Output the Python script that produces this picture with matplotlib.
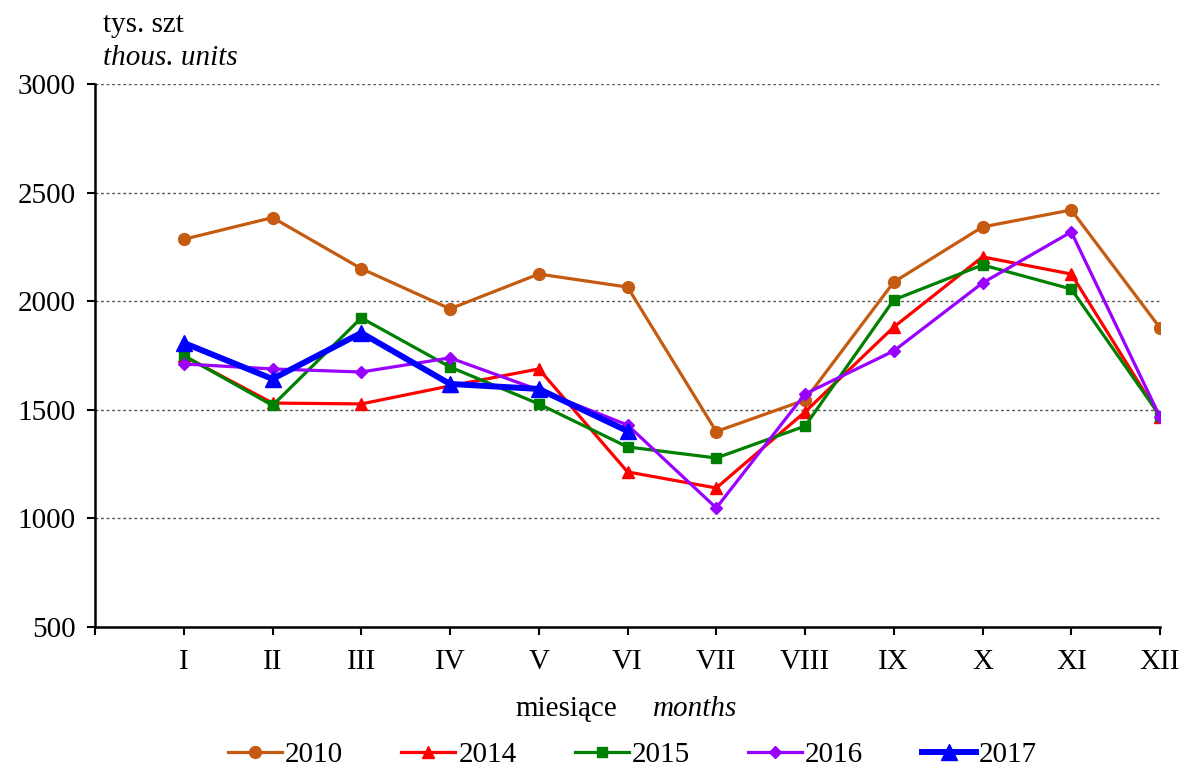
import matplotlib
matplotlib.use('Agg')
import matplotlib.pyplot as plt
import numpy as np

months = ['I', 'II', 'III', 'IV', 'V', 'VI', 'VII', 'VIII', 'IX', 'X', 'XI', 'XII']

v2010 = [2285, 2385, 2150, 1965, 2125, 2065, 1400, 1545, 2088, 2342, 2420, 1877]
v2014 = [1748, 1531, 1527, 1610, 1688, 1214, 1140, 1490, 1881, 2204, 2125, 1467]
v2015 = [1750, 1520, 1923, 1697, 1527, 1329, 1278, 1425, 2006, 2167, 2056, 1472]
v2016 = [1711, 1688, 1674, 1739, 1591, 1430, 1048, 1573, 1771, 2084, 2319, 1467]
v2017 = [1808, 1642, 1854, 1619, 1596, 1402]

plt.rcParams['font.family'] = ['Liberation Serif', 'DejaVu Serif']
FS = 21

fig = plt.figure(figsize=(11.82, 7.75), dpi=100)
ax = fig.add_axes([0.0804, 0.1910, 0.9010, 0.7006])

x = np.arange(1, 13)
ax.plot(x, v2010, color='#C55A11', lw=2.3, marker='o', ms=8.5, label='2010', zorder=3)
ax.plot(x, v2014, color='#FF0000', lw=2.3, marker='^', ms=8.5, label='2014', zorder=3)
ax.plot(x, v2015, color='#008000', lw=2.3, marker='s', ms=6.5, label='2015', zorder=3)
ax.plot(x, v2016, color='#9900FF', lw=2.3, marker='D', ms=6.5, label='2016', zorder=3)
ax.plot(x[:len(v2017)], v2017, color='#0000FF', lw=4.3, marker='^', ms=11, label='2017', zorder=4)

ax.set_xlim(0, 12)
ax.set_ylim(500, 3000)
ax.set_yticks(np.arange(500, 3001, 500))
ax.set_xticks(np.arange(0, 13))
ax.set_xticklabels([''] + months)
ax.tick_params(axis='both', labelsize=FS, direction='out', length=6, width=1.5, colors='black')
ax.tick_params(axis='x', pad=10)
ax.tick_params(axis='y', pad=8)

for s in ['top', 'right']:
    ax.spines[s].set_visible(False)
for s in ['left', 'bottom']:
    ax.spines[s].set_linewidth(1.8)

for yv in [1000, 1500, 2000, 2500, 3000]:
    ax.axhline(yv, color='#555555', lw=1, ls=(0, (2, 2)), zorder=1)

fig.text(0.087, 0.968, 'tys. szt', fontsize=FS, va='center', ha='left')
fig.text(0.087, 0.925, 'thous. units', fontsize=FS, style='italic', va='center', ha='left')

fig.text(0.479, 0.085, 'miesiące', fontsize=FS, va='center', ha='center')
fig.text(0.588, 0.085, 'months', fontsize=FS, style='italic', va='center', ha='center')

leg = fig.legend(loc='lower center', bbox_to_anchor=(0.535, -0.025), ncol=5, frameon=False,
                 fontsize=FS, handlelength=1.85, handletextpad=0.1, columnspacing=2.0)

fig.savefig('out.png', dpi=100)
